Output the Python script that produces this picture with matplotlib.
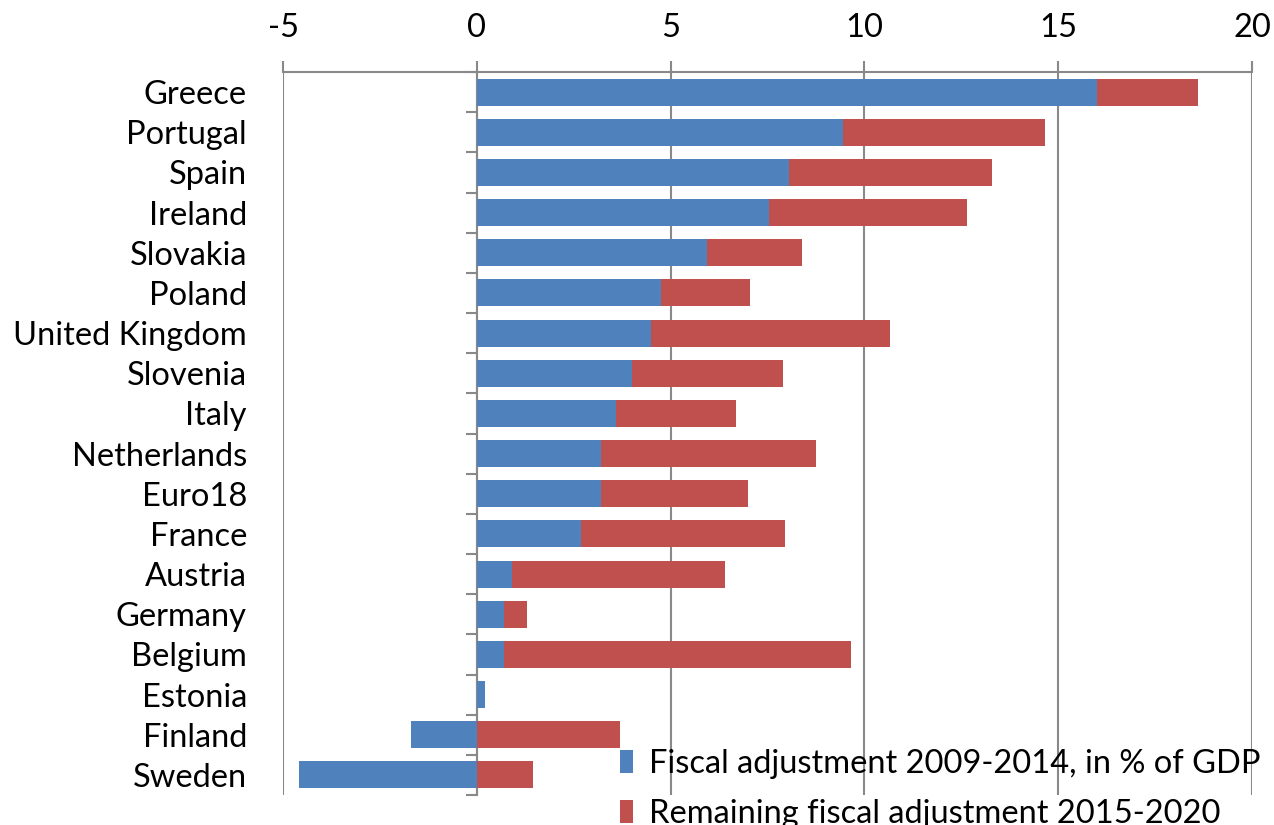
import matplotlib
matplotlib.use("Agg")
import matplotlib.pyplot as plt
import numpy as np

countries = ["Greece", "Portugal", "Spain", "Ireland", "Slovakia", "Poland",
             "United Kingdom", "Slovenia", "Italy", "Netherlands", "Euro18",
             "France", "Austria", "Germany", "Belgium", "Estonia", "Finland", "Sweden"]
adj_2009_2014 = [16.0, 9.45, 8.05, 7.55, 5.95, 4.75, 4.5, 4.0, 3.6, 3.2, 3.2,
                 2.7, 0.9, 0.7, 0.7, 0.2, -1.7, -4.6]
remaining_2015_2020 = [2.6, 5.2, 5.25, 5.1, 2.45, 2.3, 6.15, 3.9, 3.1, 5.55, 3.8,
                       5.25, 5.5, 0.6, 8.95, 0.0, 3.7, 1.45]
xticks = [-5, 0, 5, 10, 15, 20]

blue = "#4F81BD"
red = "#C0504D"
grey = "#898989"
FONT = "Lato"
FS = 23.5

plt.rcParams["font.family"] = [FONT, "DejaVu Sans"]

fig = plt.figure(figsize=(12.74, 8.25), dpi=100)
ax = fig.add_axes([283/1274, 1-795/825, (1252-283)/1274, (795-72)/825])

y = np.arange(len(countries))
a = np.array(adj_2009_2014)
r = np.array(remaining_2015_2020)
left_r = np.maximum(a, 0)
ax.barh(y, a, height=0.67, color=blue, label="Fiscal adjustment 2009-2014, in % of GDP", zorder=3)
ax.barh(y, r, left=left_r, height=0.67, color=red, label="Remaining fiscal adjustment 2015-2020", zorder=3)

ax.set_xlim(-5, 20)
ax.set_ylim(len(countries)-0.5, -0.5)
ax.set_xticks(xticks)
ax.set_xticklabels([str(t) for t in xticks], fontsize=FS)
ax.xaxis.tick_top()
ax.tick_params(axis="x", direction="out", length=8, width=1.5, color=grey, pad=13)
ax.grid(axis="x", color=grey, linewidth=1.5, zorder=0)

ax.set_yticks(y)
ax.set_yticklabels(countries, fontsize=FS)
ax.tick_params(axis="y", length=0, pad=26)

for s in ["left", "right", "bottom"]:
    ax.spines[s].set_visible(False)
ax.spines["top"].set_color(grey)
ax.spines["top"].set_linewidth(1.5)

sec = ax.secondary_yaxis(0.2)
sec.set_yticks(np.arange(-0.5, len(countries), 1.0))
sec.set_yticklabels([])
sec.tick_params(axis="y", direction="out", length=8, width=1.5, color=grey)
sec.spines["left"].set_color(grey)
sec.spines["left"].set_linewidth(1.5)
sec.spines["left"].set_zorder(4)

fig.legend(loc="upper left", bbox_to_anchor=(620/1274, 1-749/825),
           bbox_transform=fig.transFigure, frameon=False, fontsize=FS,
           handlelength=0.4, handleheight=0.7, handletextpad=0.5,
           labelspacing=0.6, borderpad=0, borderaxespad=0)

fig.savefig("out.png", dpi=100)
